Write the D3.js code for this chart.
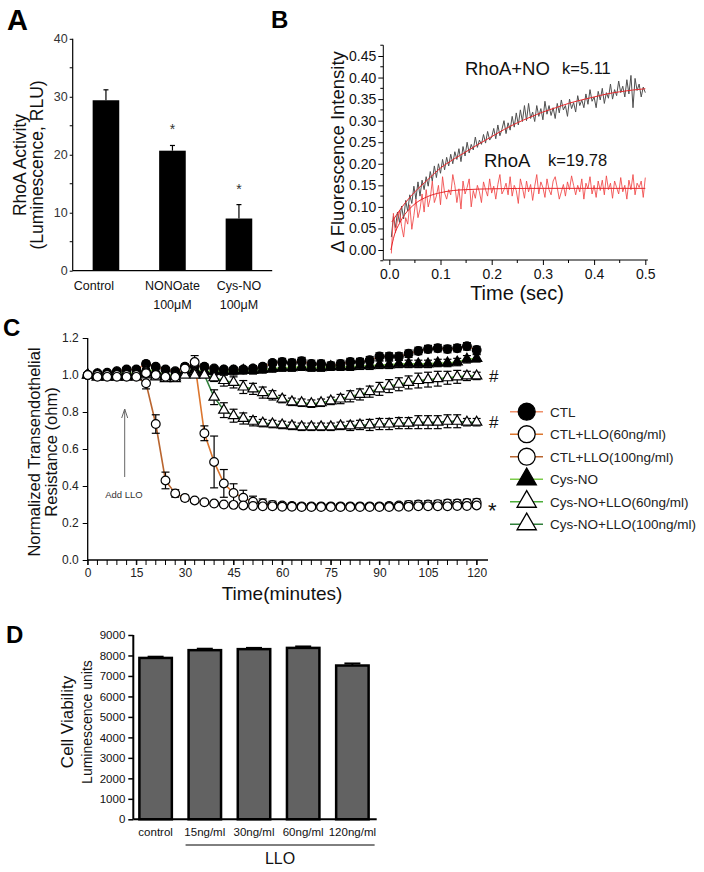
<!DOCTYPE html>
<html><head><meta charset="utf-8">
<script src="https://cdn.jsdelivr.net/npm/d3@7"></script>
<style>
html,body{margin:0;padding:0;background:#fff;}
svg{display:block;font-family:"Liberation Sans",Arial,Helvetica,sans-serif;}
</style></head><body>
<svg id="chart" width="704" height="872"></svg>
<script>
// ================= DATA =================
// Panel A
const aCategories = ["Control", "NONOate", "Cys-NO"];
const aSubLabels = ["", "100μM", "100μM"];
const aValues = [29.4, 20.7, 9.0];
const aErrors = [1.8, 0.9, 2.4];
const aStars = [false, true, true];
const aTicks = [0, 10, 20, 30, 40];
const aMinorTicks = [5, 15, 25, 35];

// Panel B (noisy traces, thousandths, sampled every bTraceStep s)
const bTraceStep = 0.004;
const bRhoaNoTraceMilli = [
  30, 78, 52, 88, 64,   102, 72, 115, 90, 128,   108, 148, 118, 158, 125,
  162, 140, 170, 148, 182,   160, 195, 168, 200, 178,   210, 186, 215, 195, 222,
  200, 228, 210, 235, 205,   240, 218, 250, 225, 245,   232, 262, 238, 255, 245,
  268, 248, 275, 255, 262,   282, 258, 290, 265, 280,   300, 270, 295, 278, 310,
  285, 318, 290, 325, 298,   335, 300, 340, 305, 320,   298, 335, 310, 328, 302,
  345, 315, 335, 312, 330,   305, 340, 318, 348, 325,   335, 310, 350, 328, 342,
  320, 358, 335, 348, 330,   362, 338, 372, 345, 355,   330, 368, 348, 375, 340,
  365, 352, 385, 350, 372,   358, 392, 365, 380, 355,   395, 362, 405, 330, 398,
  370, 385, 355, 378, 365
];
const bRhoaTraceMilli = [
  -8, 85, 40, 70, 92, 55, 30, 75, 60, 105,
  48, 80, 118, 75, 95, 130, 88, 140, 100, 120,
  160, 110, 125, 150, 105, 170, 132, 118, 140, 128,
  175, 150, 110, 142, 95, 160, 130, 145, 165, 100,
  138, 120, 150, 135, 110, 158, 140, 125, 165, 132,
  148, 118, 152, 175, 130, 140, 155, 128, 170, 125,
  150, 138, 108, 165, 145, 120, 160, 135, 152, 115,
  148, 175, 130, 158, 145, 122, 165, 140, 128, 160,
  170, 145, 118, 135, 152, 125, 158, 140, 172, 150,
  128, 150, 135, 165, 118, 155, 142, 170, 130, 150,
  122, 160, 138, 162, 128, 172, 140, 155, 120, 160,
  145, 130, 168, 135, 150, 118, 162, 140, 175, 128,
  155, 145, 160, 122, 168
];
const bRhoaNoFitTimes = [0.005,0.025,0.05,0.075,0.1,0.125,0.15,0.175,0.2,0.225,0.25,0.275,0.3,0.325,0.35,0.375,0.4,0.425,0.45,0.475,0.5];
const bRhoaNoFitValues = [0.065,0.100,0.135,0.163,0.190,0.210,0.228,0.246,0.263,0.280,0.295,0.308,0.320,0.330,0.340,0.348,0.355,0.362,0.367,0.371,0.374];
const bRhoaFitTimes = [0.003,0.01,0.02,0.03,0.04,0.05,0.075,0.1,0.125,0.15,0.2,0.3,0.4,0.5];
const bRhoaFitValues = [0.0,0.035,0.062,0.082,0.096,0.107,0.124,0.133,0.138,0.140,0.142,0.143,0.143,0.143];
const bYTicks = [0,0.05,0.10,0.15,0.20,0.25,0.30,0.35,0.40,0.45];
const bYMinorTicks = [-0.025,0.025,0.075,0.125,0.175,0.225,0.275,0.325,0.375,0.425,0.475];
const bXTicks = [0,0.1,0.2,0.3,0.4,0.5];
const bXMinorTicks = [0.05,0.15,0.25,0.35,0.45];

// Panel C
const cTimes = [0,3,6,9,12,15,18,21,24,27,30,33,36,39,42,45,48,51,54,57,60,63,66,69,72,75,78,81,84,87,90,93,96,99,102,105,108,111,114,117,120];
const cCtl = [
  1.000,1.010,1.012,1.020,1.030,1.030,1.060,1.045,1.030,1.020,
  1.045,1.050,1.045,1.035,1.030,1.030,1.030,1.035,1.045,1.065,
  1.070,1.065,1.075,1.060,1.060,1.050,1.060,1.070,1.070,1.080,
  1.100,1.100,1.100,1.115,1.130,1.140,1.145,1.140,1.145,1.155,
  1.135];
const cCtlErr = [
  0,.01,.01,.01,.01,.01,.015,.01,.01,.01,
  .015,.015,.015,.01,.01,.01,.01,.015,.015,.015,
  .02,.02,.02,.02,.02,.02,.02,.02,.02,.02,
  .02,.02,.02,.02,.02,.02,.02,.02,.02,.02,
  .02];
const cCtlLlo60 = [
  1.000,1.000,1.000,1.000,1.000,1.000,1.010,1.000,0.990,0.990,
  1.035,1.070,0.685,0.530,0.414,0.362,0.337,0.315,0.305,0.298,
  0.295,0.292,0.290,0.290,0.290,0.290,0.290,0.290,0.290,0.290,
  0.290,0.292,0.295,0.298,0.300,0.300,0.302,0.305,0.305,0.308,
  0.310];
const cCtlLlo60Err = [
  0,.01,.01,.01,.01,.01,.01,.01,.01,.01,
  .015,.035,.04,.14,.075,.05,.04,.03,.025,.02,
  .015,.015,.015,.015,.015,.015,.015,.015,.015,.015,
  .015,.015,.015,.02,.02,.02,.02,.02,.02,.02,
  .02];
const cCtlLlo100 = [
  1.000,0.990,0.990,0.990,0.990,0.990,0.955,0.735,0.430,0.360,
  0.335,0.322,0.312,0.305,0.300,0.298,0.295,0.292,0.290,0.290,
  0.288,0.288,0.286,0.286,0.286,0.286,0.286,0.286,0.286,0.286,
  0.286,0.286,0.288,0.288,0.290,0.290,0.290,0.290,0.292,0.292,
  0.295];
const cCtlLlo100Err = [
  0,.01,.01,.01,.01,.01,.03,.05,.045,.02,
  .015,.01,.01,.01,.01,.01,.01,.01,.01,.01,
  .01,.01,.01,.01,.01,.01,.01,.01,.01,.01,
  .01,.01,.01,.01,.01,.01,.01,.01,.01,.01,
  .01];
const cCysNo = [
  1.000,1.000,1.000,1.010,1.010,1.010,1.030,1.020,1.000,1.000,
  1.020,1.030,1.020,1.020,1.020,1.020,1.025,1.025,1.030,1.035,
  1.040,1.040,1.045,1.040,1.040,1.045,1.045,1.045,1.050,1.050,
  1.055,1.055,1.060,1.060,1.060,1.060,1.065,1.065,1.070,1.085,
  1.090];
const cCysNoErr = [
  0,.01,.01,.01,.01,.01,.015,.015,.01,.01,
  .02,.02,.02,.02,.02,.02,.02,.02,.02,.02,
  .02,.02,.02,.02,.02,.02,.02,.02,.02,.02,
  .02,.02,.02,.02,.02,.02,.02,.02,.02,.02,
  .02];
const cCysNoLlo60 = [
  1.000,0.990,0.990,0.990,0.990,1.000,1.020,1.000,0.990,0.990,
  1.010,1.010,1.000,0.985,0.970,0.960,0.935,0.925,0.905,0.890,
  0.870,0.855,0.850,0.845,0.850,0.860,0.870,0.885,0.895,0.910,
  0.925,0.940,0.950,0.960,0.970,0.975,0.980,0.985,0.990,0.995,
  0.995];
const cCysNoLlo60Err = [
  0,.01,.01,.01,.01,.01,.015,.01,.01,.01,
  .015,.015,.01,.02,.03,.03,.035,.03,.03,.025,
  .02,.02,.02,.02,.02,.02,.025,.03,.03,.03,
  .035,.035,.035,.035,.04,.04,.04,.035,.035,.025,
  .02];
const cCysNoLlo100 = [
  1.000,0.990,0.990,0.990,0.990,0.990,1.010,0.990,0.980,0.980,
  1.000,1.000,1.000,0.880,0.810,0.780,0.765,0.750,0.740,0.735,
  0.730,0.725,0.720,0.720,0.720,0.720,0.725,0.725,0.730,0.730,
  0.735,0.735,0.740,0.740,0.745,0.745,0.745,0.750,0.750,0.745,
  0.745];
const cCysNoLlo100Err = [
  0,.01,.01,.01,.01,.01,.015,.01,.01,.01,
  .015,.015,.01,.04,.04,.035,.03,.025,.02,.02,
  .02,.02,.02,.02,.02,.02,.02,.025,.025,.03,
  .03,.03,.03,.03,.035,.035,.035,.035,.035,.02,
  .02];
const cSeriesNames = ["CTL","CTL+LLO(60ng/ml)","CTL+LLO(100ng/ml)","Cys-NO","Cys-NO+LLO(60ng/ml)","Cys-NO+LLO(100ng/ml)"];
const cXTickLabels = [0,15,30,45,60,75,90,105,120];
const cYTicks = [0,0.2,0.4,0.6,0.8,1.0,1.2];

// Panel D
const dCategories = ["control","15ng/ml","30ng/ml","60ng/ml","120ng/ml"];
const dValues = [7880, 8260, 8310, 8370, 7510];
const dErrors = [60, 70, 60, 70, 100];
const dTicks = [0,1000,2000,3000,4000,5000,6000,7000,8000,9000];

// ================= DRAW =================
const svg = d3.select("#chart");
const FONT = '"Liberation Sans",Arial,Helvetica,sans-serif';

function styleAxis(g, size, color) {
  g.selectAll(".domain").remove();
  g.selectAll(".tick line").attr("stroke", "#000").attr("stroke-width", 1);
  g.selectAll(".tick text").attr("fill", color).attr("font-size", size).attr("font-family", FONT);
}
function panelLetter(t, x, y, size) {
  svg.append("text").attr("x", x).attr("y", y).attr("font-size", size).attr("font-weight", "bold")
    .attr("font-family", FONT).attr("fill", "#000").text(t);
}

// ---------- Panel A ----------
panelLetter("A", 7, 30, 29);
const yA = d3.scaleLinear().domain([0, 40]).range([270.7, 38.8]);
const xA = d3.scaleBand().domain(aCategories).range([72.7, 272.2]).paddingInner(0.6).paddingOuter(0.3);
const gA = svg.append("g");
gA.append("g").attr("transform", "translate(72.7,0)")
  .call(d3.axisLeft(yA).tickValues(aTicks).tickSize(3).tickSizeOuter(0).tickPadding(2))
  .call(g => styleAxis(g, 12.5, "#333"));
gA.selectAll(".aminor").data(aMinorTicks).join("line")
  .attr("x1", 69.7).attr("x2", 72.7).attr("y1", d => yA(d)).attr("y2", d => yA(d)).attr("stroke", "#000");
gA.append("line").attr("x1", 72.7).attr("x2", 72.7).attr("y1", yA(40)).attr("y2", yA(0)).attr("stroke", "#000").attr("stroke-width", 1.2);
gA.append("line").attr("x1", 72.7).attr("x2", 272.2).attr("y1", yA(0)).attr("y2", yA(0)).attr("stroke", "#000").attr("stroke-width", 1.2);
const aData = aCategories.map((c, i) => ({c, v: aValues[i], e: aErrors[i], s: aStars[i], sub: aSubLabels[i]}));
gA.selectAll(".aerr").data(aData).join("line")
  .attr("x1", d => xA(d.c) + xA.bandwidth() / 2).attr("x2", d => xA(d.c) + xA.bandwidth() / 2)
  .attr("y1", d => yA(d.v)).attr("y2", d => yA(d.v + d.e)).attr("stroke", "#000").attr("stroke-width", 1.2);
gA.selectAll(".acap").data(aData).join("line")
  .attr("x1", d => xA(d.c) + xA.bandwidth() / 2 - 2.5).attr("x2", d => xA(d.c) + xA.bandwidth() / 2 + 2.5)
  .attr("y1", d => yA(d.v + d.e)).attr("y2", d => yA(d.v + d.e)).attr("stroke", "#000").attr("stroke-width", 1.2);
gA.selectAll(".abar").data(aData).join("rect")
  .attr("x", d => xA(d.c)).attr("width", xA.bandwidth())
  .attr("y", d => yA(d.v)).attr("height", d => yA(0) - yA(d.v)).attr("fill", "#000");
gA.selectAll(".astar").data(aData.filter(d => d.s)).join("text")
  .attr("x", d => xA(d.c) + xA.bandwidth() / 2).attr("y", d => yA(d.v + d.e) - 11)
  .attr("text-anchor", "middle").attr("font-size", 14).attr("fill", "#333").text("*");
gA.selectAll(".alab").data(aData).join("text")
  .attr("x", (d, i) => xA(d.c) + xA.bandwidth() / 2 + (i === 0 ? -12 : 0)).attr("y", 290)
  .attr("text-anchor", "middle").attr("font-size", 12.5).attr("fill", "#111").text(d => d.c);
gA.selectAll(".asub").data(aData.filter(d => d.sub)).join("text")
  .attr("x", d => xA(d.c) + xA.bandwidth() / 2).attr("y", 309)
  .attr("text-anchor", "middle").attr("font-size", 12.5).attr("fill", "#111").text(d => d.sub);
const aYl = gA.append("text").attr("transform", "translate(26,165) rotate(-90)").attr("text-anchor", "middle")
  .attr("font-size", 17.5).attr("fill", "#111");
aYl.append("tspan").attr("x", 0).attr("y", 0).text("RhoA Activity");
aYl.append("tspan").attr("x", 0).attr("y", 17).text("(Luminescence, RLU)");

// ---------- Panel B ----------
panelLetter("B", 271, 28, 24);
const xB = d3.scaleLinear().domain([0, 0.5]).range([389.3, 645.3]);
const yB = d3.scaleLinear().domain([0, 0.45]).range([250, 56]);
const gB = svg.append("g");
const bXmin = -0.0117, bXmax = 0.505, bYmin = -0.0232, bYmax = 0.475;
gB.append("g").attr("transform", `translate(0,${yB(bYmin)})`)
  .call(d3.axisBottom(xB).tickValues(bXTicks).tickSize(5).tickSizeOuter(0).tickPadding(4).tickFormat(d3.format(".1f")))
  .call(g => styleAxis(g, 14, "#111"));
gB.append("g").attr("transform", `translate(${xB(bXmin)},0)`)
  .call(d3.axisLeft(yB).tickValues(bYTicks).tickSize(5).tickSizeOuter(0).tickPadding(2).tickFormat(d3.format(".2f")))
  .call(g => styleAxis(g, 14, "#111"));
gB.selectAll(".bxm").data(bXMinorTicks).join("line")
  .attr("x1", d => xB(d)).attr("x2", d => xB(d)).attr("y1", yB(bYmin)).attr("y2", yB(bYmin) + 3).attr("stroke", "#000");
gB.selectAll(".bym").data(bYMinorTicks).join("line")
  .attr("x1", xB(bXmin) - 3).attr("x2", xB(bXmin)).attr("y1", d => yB(d)).attr("y2", d => yB(d)).attr("stroke", "#000");
gB.append("line").attr("x1", xB(bXmin)).attr("x2", xB(bXmax)).attr("y1", yB(bYmin)).attr("y2", yB(bYmin)).attr("stroke", "#000");
gB.append("line").attr("x1", xB(bXmin)).attr("x2", xB(bXmin)).attr("y1", yB(bYmin)).attr("y2", yB(bYmax)).attr("stroke", "#000");

const lineB = d3.line().x(d => xB(d[0])).y(d => yB(d[1]));
const blackTrace = bRhoaNoTraceMilli.map((v, i) => [(i + 1) * bTraceStep, v / 1000]);
const redTrace = bRhoaTraceMilli.map((v, i) => [(i + 1) * bTraceStep, v / 1000]);
gB.append("path").datum(blackTrace).attr("d", lineB).attr("fill", "none").attr("stroke", "#505050").attr("stroke-width", 1);
gB.append("path").datum(redTrace).attr("d", lineB).attr("fill", "none").attr("stroke", "#f04545").attr("stroke-width", 1).attr("opacity", 0.85);
const lineFit = d3.line().x(d => xB(d[0])).y(d => yB(d[1])).curve(d3.curveMonotoneX);
gB.append("path").datum(bRhoaNoFitTimes.map((t, i) => [t, bRhoaNoFitValues[i]])).attr("d", lineFit)
  .attr("fill", "none").attr("stroke", "#e8262a").attr("stroke-width", 1);
gB.append("path").datum(bRhoaFitTimes.map((t, i) => [t, bRhoaFitValues[i]])).attr("d", lineFit)
  .attr("fill", "none").attr("stroke", "#e8262a").attr("stroke-width", 1);
gB.append("text").attr("x", 465).attr("y", 75).attr("font-size", 18.5).attr("fill", "#111").text("RhoA+NO");
gB.append("text").attr("x", 562).attr("y", 74).attr("font-size", 16.5).attr("fill", "#111").text("k=5.11");
gB.append("text").attr("x", 484).attr("y", 167).attr("font-size", 18.5).attr("fill", "#111").text("RhoA");
gB.append("text").attr("x", 548).attr("y", 166).attr("font-size", 16.5).attr("fill", "#111").text("k=19.78");
gB.append("text").attr("transform", "translate(344,152) rotate(-90)").attr("text-anchor", "middle")
  .attr("font-size", 18.5).attr("fill", "#111").text("Δ Fluorescence Intensity");
gB.append("text").attr("x", 517).attr("y", 300).attr("text-anchor", "middle").attr("font-size", 20).attr("fill", "#111").text("Time (sec)");

// ---------- Panel C ----------
panelLetter("C", 3, 336, 24);
const xC = d3.scaleLinear().domain([0, 123.5]).range([87.7, 488]);
const yC = d3.scaleLinear().domain([0, 1.2]).range([560, 338]);
const gC = svg.append("g");
gC.append("g").attr("transform", "translate(0,560)")
  .call(d3.axisBottom(xC).tickValues(cXTickLabels).tickSize(5).tickSizeOuter(0).tickPadding(3))
  .call(g => styleAxis(g, 12, "#222"));
gC.selectAll(".cxm").data(cTimes).join("line")
  .attr("x1", d => xC(d)).attr("x2", d => xC(d)).attr("y1", 560).attr("y2", 565).attr("stroke", "#000");
gC.append("g").attr("transform", "translate(87.7,0)")
  .call(d3.axisLeft(yC).tickValues(cYTicks).tickSize(5).tickSizeOuter(0).tickPadding(4).tickFormat(d3.format(".1f")))
  .call(g => styleAxis(g, 12, "#222"));
gC.append("line").attr("x1", 87.7).attr("x2", 488).attr("y1", 560).attr("y2", 560).attr("stroke", "#000").attr("stroke-width", 1.3);
gC.append("line").attr("x1", 87.7).attr("x2", 87.7).attr("y1", 560).attr("y2", 338).attr("stroke", "#000").attr("stroke-width", 1.3);

const triSmall = d3.symbol().type(d3.symbolTriangle).size(46)();
const circSmall = d3.symbol().type(d3.symbolCircle).size(60)();
const triBig = d3.symbol().type(d3.symbolTriangle).size(160)();
const circBig = d3.symbol().type(d3.symbolCircle).size(225)();
const cSeries = [
  {name: cSeriesNames[0], v: cCtl, e: cCtlErr, shape: "c", fill: "#000", color: "#f0906a"},
  {name: cSeriesNames[1], v: cCtlLlo60, e: cCtlLlo60Err, shape: "c", fill: "#fff", color: "#dc762e"},
  {name: cSeriesNames[2], v: cCtlLlo100, e: cCtlLlo100Err, shape: "c", fill: "#fff", color: "#b9652f"},
  {name: cSeriesNames[3], v: cCysNo, e: cCysNoErr, shape: "t", fill: "#000", color: "#7ccc4a"},
  {name: cSeriesNames[4], v: cCysNoLlo60, e: cCysNoLlo60Err, shape: "t", fill: "#fff", color: "#4cae3a"},
  {name: cSeriesNames[5], v: cCysNoLlo100, e: cCysNoLlo100Err, shape: "t", fill: "#fff", color: "#2f7f3a"}
];
cSeries.forEach(s => { s.pts = cTimes.map((t, i) => ({t, v: s.v[i], e: s.e[i]})); });
const lineC = d3.line().x(d => xC(d.t)).y(d => yC(d.v));
cSeries.forEach(s => {
  gC.append("path").datum(s.pts).attr("d", lineC).attr("fill", "none").attr("stroke", s.color).attr("stroke-width", 1.6);
});
cSeries.forEach(s => {
  const eb = gC.append("g").attr("stroke", "#000").attr("stroke-width", 1.2);
  const pts = s.pts.filter(d => d.e > 0);
  eb.selectAll(".v").data(pts).join("line").attr("x1", d => xC(d.t)).attr("x2", d => xC(d.t))
    .attr("y1", d => yC(d.v - d.e)).attr("y2", d => yC(d.v + d.e));
  eb.selectAll(".t").data(pts).join("line").attr("x1", d => xC(d.t) - 4).attr("x2", d => xC(d.t) + 4)
    .attr("y1", d => yC(d.v + d.e)).attr("y2", d => yC(d.v + d.e));
  eb.selectAll(".b").data(pts).join("line").attr("x1", d => xC(d.t) - 4).attr("x2", d => xC(d.t) + 4)
    .attr("y1", d => yC(d.v - d.e)).attr("y2", d => yC(d.v - d.e));
});
const drawOrder = [0, 3, 4, 5, 1, 2];
drawOrder.forEach(k => {
  const s = cSeries[k];
  gC.append("g").selectAll("path").data(s.pts).join("path")
    .attr("d", s.shape === "c" ? circSmall : triSmall)
    .attr("transform", d => `translate(${xC(d.t)},${yC(d.v)})`)
    .attr("fill", s.fill).attr("stroke", "#000").attr("stroke-width", 1.2);
});
// end-of-series marks
gC.append("text").attr("x", 489).attr("y", yC(cCysNoLlo60[40]) + 6).attr("font-size", 17).attr("fill", "#111").text("#");
gC.append("text").attr("x", 489).attr("y", yC(cCysNoLlo100[40]) + 6).attr("font-size", 17).attr("fill", "#111").text("#");
gC.append("text").attr("x", 488).attr("y", yC(cCtlLlo100[40]) + 12.5).attr("font-size", 22).attr("fill", "#111").text("*");
// Add LLO arrow
gC.append("line").attr("x1", 124.7).attr("x2", 124.7).attr("y1", 477).attr("y2", 409).attr("stroke", "#666").attr("stroke-width", 1);
gC.append("path").attr("d", "M121.7,418 L124.7,409 L127.7,418").attr("fill", "none").attr("stroke", "#666").attr("stroke-width", 1);
gC.append("text").attr("x", 124).attr("y", 497.5).attr("text-anchor", "middle").attr("font-size", 9.5).attr("fill", "#333").text("Add LLO");
// axis titles
const cYl = gC.append("text").attr("transform", "translate(40,452) rotate(-90)").attr("text-anchor", "middle")
  .attr("font-size", 16.5).attr("fill", "#111");
cYl.append("tspan").attr("x", 0).attr("y", 0).text("Normalized Transendothelial");
cYl.append("tspan").attr("x", 0).attr("y", 17).text("Resistance (ohm)");
gC.append("text").attr("x", 282).attr("y", 600).attr("text-anchor", "middle").attr("font-size", 19).attr("fill", "#111").text("Time(minutes)");
// legend
const legRowsY = [411.7, 434.2, 456.7, 479.2, 501.7, 524.2];
const leg = gC.append("g").selectAll("g").data(cSeries).join("g")
  .attr("transform", (d, i) => `translate(0,${legRowsY[i]})`);
leg.append("line").attr("x1", 510).attr("x2", 543).attr("y1", 0).attr("y2", 0).attr("stroke", d => d.color).attr("stroke-width", 1.6);
leg.append("path").attr("d", d => d.shape === "c" ? circBig : triBig).attr("transform", "translate(526.7,0)")
  .attr("fill", d => d.fill).attr("stroke", "#000").attr("stroke-width", 1.3);
leg.append("text").attr("x", 550).attr("y", 5).attr("font-size", 13.5).attr("fill", "#222").text(d => d.name);

// ---------- Panel D ----------
panelLetter("D", 6, 643, 24);
const yD = d3.scaleLinear().domain([0, 9000]).range([819.3, 635]);
const xD = d3.scaleBand().domain(dCategories).range([132, 376]).paddingInner(0.34).paddingOuter(0.15);
const gD = svg.append("g");
gD.append("g").attr("transform", "translate(133.3,0)")
  .call(d3.axisLeft(yD).tickValues(dTicks).tickSize(5).tickSizeOuter(0).tickPadding(3).tickFormat(d3.format("d")))
  .call(g => styleAxis(g, 11.5, "#111"));
gD.selectAll(".tick line").attr("stroke-width", 1.5);
const dData = dCategories.map((c, i) => ({c, v: dValues[i], e: dErrors[i]}));
gD.selectAll(".derr").data(dData).join("line")
  .attr("x1", d => xD(d.c) + xD.bandwidth() / 2).attr("x2", d => xD(d.c) + xD.bandwidth() / 2)
  .attr("y1", d => yD(d.v)).attr("y2", d => yD(d.v + d.e)).attr("stroke", "#000").attr("stroke-width", 2);
gD.selectAll(".dcap").data(dData).join("line")
  .attr("x1", d => xD(d.c) + xD.bandwidth() / 2 - 8).attr("x2", d => xD(d.c) + xD.bandwidth() / 2 + 8)
  .attr("y1", d => yD(d.v + d.e)).attr("y2", d => yD(d.v + d.e)).attr("stroke", "#000").attr("stroke-width", 2);
gD.selectAll(".dbar").data(dData).join("rect")
  .attr("x", d => xD(d.c)).attr("width", xD.bandwidth())
  .attr("y", d => yD(d.v)).attr("height", d => yD(0) - yD(d.v))
  .attr("fill", "#626262").attr("stroke", "#000").attr("stroke-width", 2.5);
gD.append("line").attr("x1", 133.3).attr("x2", 376.7).attr("y1", 819.3).attr("y2", 819.3).attr("stroke", "#000").attr("stroke-width", 2);
gD.append("line").attr("x1", 133.3).attr("x2", 133.3).attr("y1", 819.3).attr("y2", 635).attr("stroke", "#000").attr("stroke-width", 2);
gD.selectAll(".dlab").data(dData).join("text")
  .attr("x", d => xD(d.c) + xD.bandwidth() / 2).attr("y", 836)
  .attr("text-anchor", "middle").attr("font-size", 11.5).attr("fill", "#111").text(d => d.c);
gD.append("line").attr("x1", xD(dCategories[1]) - 3).attr("x2", xD(dCategories[4]) + xD.bandwidth() + 6)
  .attr("y1", 845).attr("y2", 845).attr("stroke", "#000").attr("stroke-width", 1);
gD.append("text").attr("x", 280).attr("y", 864).attr("text-anchor", "middle").attr("font-size", 16).attr("fill", "#111").text("LLO");
gD.append("text").attr("transform", "translate(73,722) rotate(-90)").attr("text-anchor", "middle")
  .attr("font-size", 17).attr("fill", "#111").text("Cell Viability");
gD.append("text").attr("transform", "translate(92,722) rotate(-90)").attr("text-anchor", "middle")
  .attr("font-size", 14).attr("fill", "#111").text("Luminescence units");
</script>
</body></html>
